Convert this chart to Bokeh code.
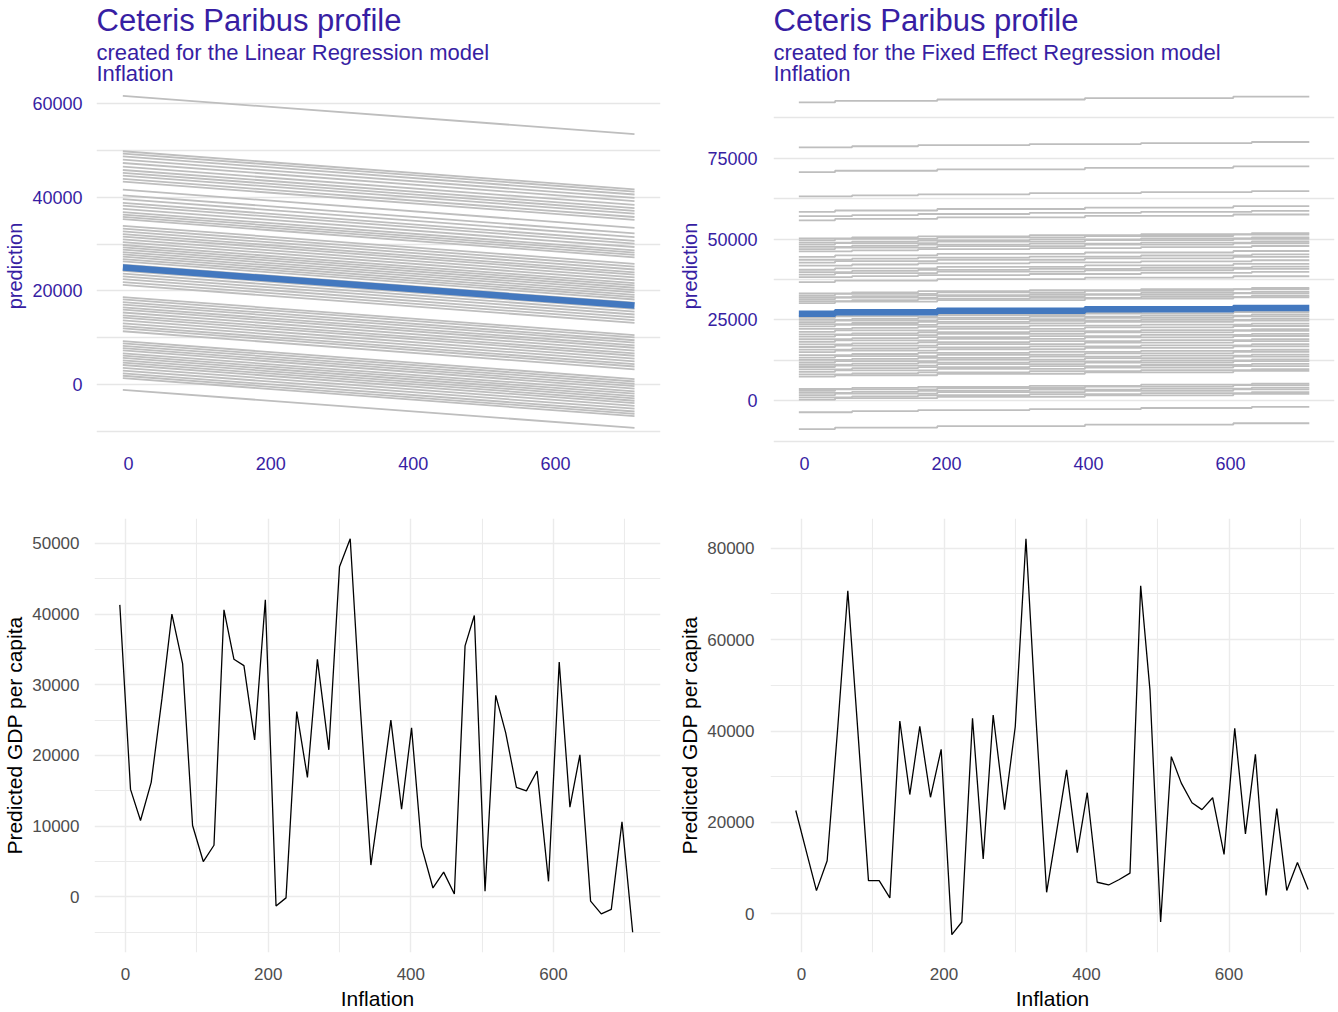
from bokeh.plotting import figure
from bokeh.models import Range1d, FixedTicker, Title, NumeralTickFormatter
from bokeh.layouts import column, row
from bokeh.embed import file_html
from bokeh.resources import INLINE

FONT = "Liberation Sans"
PURPLE = "#371ea3"
GREY = "#bebebe"
BLUE = "#4378bf"

# ---------------- data ----------------
inflation_min = -8
inflation_max = 711

# Linear regression: ceteris paribus profiles (value at inflation_min) and common slope
lr_slope = -11.3
lr_start = [61600,
            49800, 49300, 48700, 48000, 47300, 46500, 45800, 45200, 44600, 43900, 43300,
            41600, 40400, 39600, 38800, 38200, 37500, 36800, 36300, 35800, 35300,
            33900, 33300, 32700, 32100, 31600, 31000, 30400, 29800, 29300, 28800, 28300,
            27800, 27300, 26800, 26300, 25600,
            24300, 23700, 23100, 22500, 21900, 21300,
            18700, 18200, 17600, 17100, 16500, 16000, 15400, 14800, 14300, 13700, 13100,
            12500, 12000, 11400,
            9300, 8800, 8300, 7800, 7300, 6700, 6200, 5700, 5200, 4700, 4200, 3600, 3000,
            2400, 1900, 1400,
            -1100]
lr_obs_start = 25000

# Fixed effect regression: profiles (value at inflation_min) and step profiles
fe_start = [92300, 78400, 70700, 63200,
            58400, 57100, 55800,
            50200, 49600, 48900, 48300, 47600, 46900, 46200,
            44500, 43600, 42700, 41800, 40500, 39800, 39000, 38200, 36700,
            33200, 32600, 32000, 31400, 30800, 30200,
            26200, 25600, 25000, 24300, 23700, 23000, 22200, 21300, 20500, 19800, 19000,
            18200, 17400, 16600, 15800, 15000, 14100, 13300, 12600, 11800, 11100, 10400,
            9700, 8900, 8100, 7400,
            3600, 3000, 2400, 1700, 1000, 300,
            -3600, -8800]
fe_obs_start = 26900
fe_steps_a = [43, 187, 395, 604]
fe_step_a = 450
fe_steps_b = [67, 160, 317, 474, 630]
fe_step_b = 330

# Predictions per observation
obs_inflation = [-8, 7, 21, 36, 51, 65, 80, 94, 109, 124, 138, 152, 166, 181, 196,
                 211, 225, 240, 255, 269, 285, 300, 315, 329, 344, 358, 372, 387, 401,
                 415, 431, 446, 461, 476, 489, 504, 519, 533, 548, 562, 577, 593, 608,
                 623, 637, 652, 667, 681, 696, 711]
pred_lr = [41300, 15200, 10800, 16200, 28000, 40000, 33000, 10100, 5000, 7300, 40600,
           33600, 32700, 22200, 42000, -1300, -140, 26200, 16900, 33600, 20800, 46700,
           50650, 27000, 4500, 14500, 25000, 12400, 23900, 7100, 1260, 3500, 420, 35500,
           39800, 800, 28500, 23200, 15500, 15000, 17800, 2200, 33200, 12700, 20100,
           -600, -2400, -1770, 10600, -5000]
pred_fe = [22600, 13500, 5070, 11600, 41000, 70700, 38000, 7250, 7250, 3480, 42200,
           26100, 41000, 25500, 36000, -4570, -1800, 42800, 12000, 43500, 22800, 41000,
           82100, 43000, 4700, 18000, 31500, 13400, 26500, 6900, 6300, 7500, 8900, 71800,
           49000, -1800, 34400, 28600, 24300, 22800, 25400, 13000, 40600, 17500, 34900,
           4000, 23000, 5100, 11200, 5300]


# ---------------- helpers ----------------
def step_profile(start, steps, size):
    xs, ys = [inflation_min], [start]
    v = start
    for s in steps:
        xs += [s, s]
        ys += [v, v + size]
        v += size
    xs.append(inflation_max)
    ys.append(v)
    return xs, ys


def style_cp(p, major, minor, label_standoff):
    p.outline_line_color = None
    p.background_fill_color = "white"
    p.border_fill_color = "white"
    p.xgrid.visible = False
    p.ygrid.grid_line_color = "#e6e6e6"
    p.ygrid.grid_line_width = 1.3
    p.ygrid.minor_grid_line_color = "#e6e6e6"
    p.ygrid.minor_grid_line_width = 1.3
    p.yaxis.ticker = FixedTicker(ticks=major, minor_ticks=minor)
    p.xaxis.ticker = FixedTicker(ticks=[0, 200, 400, 600])
    p.yaxis.formatter = NumeralTickFormatter(format="0")
    for ax in (p.xaxis[0], p.yaxis[0]):
        ax.axis_line_color = None
        ax.major_tick_line_color = None
        ax.minor_tick_line_color = None
        ax.major_label_text_color = PURPLE
        ax.major_label_text_font = FONT
        ax.major_label_text_font_size = "18px"
    p.xaxis.major_label_standoff = 4
    p.yaxis.major_label_standoff = label_standoff
    p.yaxis.axis_label = "prediction"
    p.yaxis.axis_label_text_color = PURPLE
    p.yaxis.axis_label_text_font = FONT
    p.yaxis.axis_label_text_font_size = "20px"
    p.yaxis.axis_label_text_font_style = "normal"
    p.yaxis.axis_label_standoff = 3


def add_titles(p, subtitle):
    p.add_layout(Title(text=subtitle + "\nInflation", text_font=FONT, text_font_size="22px",
                       text_font_style="normal", text_color=PURPLE, align="left",
                       text_line_height=0.82, standoff=0), "above")
    p.add_layout(Title(text="Ceteris Paribus profile", text_font=FONT,
                       text_font_size="31px", text_font_style="normal",
                       text_color=PURPLE, align="left", text_line_height=0.85,
                       standoff=0), "above")


def style_line(p, major_y, minor_y, label_standoff):
    p.outline_line_color = None
    p.xaxis.ticker = FixedTicker(ticks=[0, 200, 400, 600], minor_ticks=[100, 300, 500, 700])
    p.yaxis.ticker = FixedTicker(ticks=major_y, minor_ticks=minor_y)
    p.yaxis.formatter = NumeralTickFormatter(format="0")
    for g in (p.xgrid[0], p.ygrid[0]):
        g.grid_line_color = "#ebebeb"
        g.grid_line_width = 1.4
        g.minor_grid_line_color = "#ebebeb"
        g.minor_grid_line_width = 1.1
    for ax in (p.xaxis[0], p.yaxis[0]):
        ax.axis_line_color = None
        ax.major_tick_line_color = None
        ax.minor_tick_line_color = None
        ax.major_label_text_color = "#4d4d4d"
        ax.major_label_text_font = FONT
        ax.major_label_text_font_size = "17px"
        ax.axis_label_text_color = "black"
        ax.axis_label_text_font = FONT
        ax.axis_label_text_font_size = "21px"
        ax.axis_label_text_font_style = "normal"
    p.xaxis.major_label_standoff = 9
    p.yaxis.major_label_standoff = label_standoff
    p.xaxis.axis_label = "Inflation"
    p.yaxis.axis_label = "Predicted GDP per capita"
    p.xaxis.axis_label_standoff = 4
    p.yaxis.axis_label_standoff = 3


# ---------------- top-left: linear regression CP ----------------
span = inflation_max - inflation_min
p1 = figure(width=669, height=490, x_range=Range1d(-45, 747.5),
            y_range=Range1d(-13190, 63830), output_backend="svg",
            toolbar_location=None, min_border_left=96, min_border_right=9,
            min_border_top=84, min_border_bottom=44)
style_cp(p1, [0, 20000, 40000, 60000], [-10000, 10000, 30000, 50000], 8)
add_titles(p1, "created for the Linear Regression model")
p1.multi_line(xs=[[inflation_min, inflation_max] for _ in lr_start],
              ys=[[s, s + lr_slope * span] for s in lr_start],
              line_color=GREY, line_width=1.8)
p1.line([inflation_min, inflation_max], [lr_obs_start, lr_obs_start + lr_slope * span],
        line_color=BLUE, line_width=6.5)

# ---------------- top-right: fixed effect CP ----------------
p2 = figure(width=669, height=490, x_range=Range1d(-43.7, 746.5),
            y_range=Range1d(-14200, 97530), output_backend="svg",
            toolbar_location=None, min_border_left=104, min_border_right=4,
            min_border_top=84, min_border_bottom=44)
style_cp(p2, [0, 25000, 50000, 75000], [-12500, 12500, 37500, 62500, 87500], 10)
add_titles(p2, "created for the Fixed Effect Regression model")
fe_xs, fe_ys = [], []
for i, s in enumerate(fe_start):
    if i % 2 == 0:
        xs, ys = step_profile(s, fe_steps_a, fe_step_a)
    else:
        xs, ys = step_profile(s, fe_steps_b, fe_step_b)
    fe_xs.append(xs)
    fe_ys.append(ys)
p2.multi_line(xs=fe_xs, ys=fe_ys, line_color=GREY, line_width=1.8)
bx, by = step_profile(fe_obs_start, fe_steps_a, fe_step_a)
p2.line(bx, by, line_color=BLUE, line_width=6.5)

# ---------------- bottom-left: LR predictions ----------------
p3 = figure(width=669, height=522, x_range=Range1d(-43.5, 750),
            y_range=Range1d(-7865, 53511), output_backend="svg",
            toolbar_location=None, min_border_left=94, min_border_right=9,
            min_border_top=28, min_border_bottom=57)
style_line(p3, [0, 10000, 20000, 30000, 40000, 50000], [-5000, 5000, 15000, 25000, 35000, 45000], 9)
p3.line(obs_inflation, pred_lr, line_color="black", line_width=1.3)

# ---------------- bottom-right: FE predictions ----------------
p4 = figure(width=669, height=522, x_range=Range1d(-43.5, 748),
            y_range=Range1d(-8478, 86522), output_backend="svg",
            toolbar_location=None, min_border_left=101, min_border_right=4,
            min_border_top=28, min_border_bottom=57)
style_line(p4, [0, 20000, 40000, 60000, 80000], [10000, 30000, 50000, 70000], 10)
p4.line(obs_inflation, pred_fe, line_color="black", line_width=1.3)

layout = column(row(p1, p2), row(p3, p4))
open("out.html", "w").write(file_html(layout, INLINE))
